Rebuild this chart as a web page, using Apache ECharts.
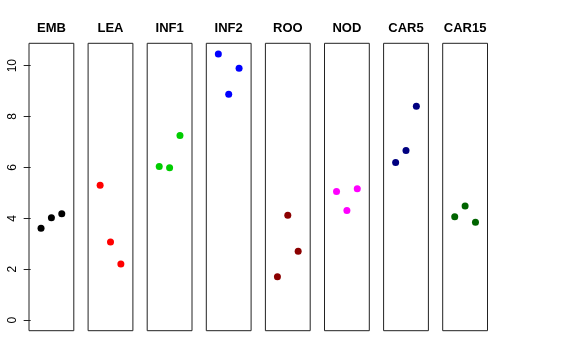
<!DOCTYPE html>
<html>
<head>
<meta charset="utf-8">
<script src="https://cdn.jsdelivr.net/npm/echarts@6/dist/echarts.min.js"></script>
<style>html,body{margin:0;padding:0;background:#fff}#c{width:576px;height:360px}</style>
</head>
<body>
<div id="c"></div>
<script>
const groups = ['EMB','LEA','INF1','INF2','ROO','NOD','CAR5','CAR15'];
const colors = ['#000000','#FF0000','#00CD00','#0000FF','#8B0000','#FF00FF','#000080','#006400'];
const EMB = [3.61, 4.02, 4.18];
const LEA = [5.30, 3.07, 2.20];
const INF1 = [6.04, 5.99, 7.25];
const INF2 = [10.46, 8.88, 9.90];
const ROO = [1.70, 4.12, 2.70];
const NOD = [5.05, 4.31, 5.16];
const CAR5 = [6.19, 6.66, 8.40];
const CAR15 = [4.06, 4.48, 3.84];
const values = [EMB, LEA, INF1, INF2, ROO, NOD, CAR5, CAR15];
const yTicks = [0, 2, 4, 6, 8, 10];
const replicate = [1, 2, 3];

const yMin = 0, yMax = 10.46;
const ext = (yMax - yMin) * 0.04;
const xExt = 4 * 0.04;

const panelLeft = 29, panelStep = 59.1, panelW = 44.8, panelTop = 43.3, panelH = 287.4;

const grids = [], xAxes = [], yAxes = [], series = [], titles = [];
groups.forEach((g, i) => {
  const left = panelLeft + i * panelStep;
  grids.push({left: left, top: panelTop, width: panelW, height: panelH, show: true,
    borderColor: '#222', borderWidth: 1, backgroundColor: 'transparent'});
  xAxes.push({gridIndex: i, type: 'value', min: -xExt, max: 4 + xExt,
    show: false, splitLine: {show: false}});
  yAxes.push({gridIndex: i, type: 'value', min: yMin - ext, max: yMax + ext,
    show: i === 0,
    axisLine: {show: false},
    splitLine: {show: false},
    axisTick: {show: i === 0, length: 7, inside: false, customValues: yTicks,
      lineStyle: {color: '#222', width: 1}},
    axisLabel: {show: i === 0, customValues: yTicks, rotate: 90, margin: 10,
      fontFamily: 'Liberation Sans, Arial, sans-serif', fontSize: 12, color: '#000'}
  });
  series.push({type: 'scatter', xAxisIndex: i, yAxisIndex: i,
    symbol: 'circle', symbolSize: 7,
    itemStyle: {color: colors[i], opacity: 1},
    data: values[i].map((v, k) => [replicate[k], v]),
    silent: true, animation: false});
  titles.push({text: g, left: left + panelW / 2, top: 22, textAlign: 'center', padding: 0,
    textStyle: {fontFamily: 'Liberation Sans, Arial, sans-serif', fontSize: 13, fontWeight: 'bold', color: '#000'}});
});

const chart = echarts.init(document.getElementById('c'), null, {renderer: 'canvas'});
chart.setOption({
  animation: false,
  backgroundColor: '#fff',
  title: titles,
  grid: grids,
  xAxis: xAxes,
  yAxis: yAxes,
  series: series
});
</script>
</body>
</html>
